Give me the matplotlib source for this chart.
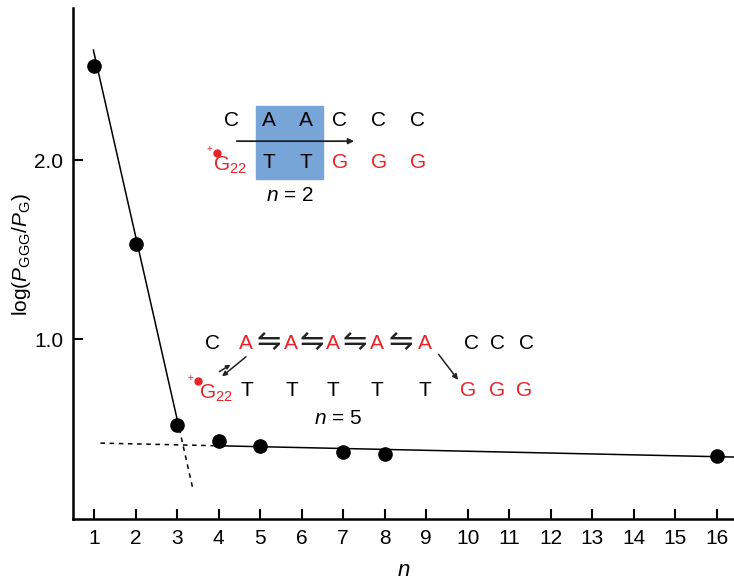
import matplotlib
matplotlib.use("Agg")
from matplotlib import pyplot as plt
from matplotlib.patches import Rectangle

plt.rcParams['font.family'] = ['Liberation Sans', 'DejaVu Sans']
plt.rcParams['mathtext.fontset'] = 'custom'
plt.rcParams['mathtext.rm'] = 'Liberation Sans'
plt.rcParams['mathtext.it'] = 'Liberation Sans:italic'

# data
n_vals = [1, 2, 3, 4, 5, 7, 8, 16]
log_ratio = [2.525, 1.53, 0.52, 0.43, 0.40, 0.37, 0.36, 0.345]
x_ticks = list(range(1, 17))
y_ticks = [1.0, 2.0]

# fitted lines (end points)
steep_n = [0.98, 3.05, 3.39]
steep_y = [2.615, 0.50, 0.151]
flat_n = [1.15, 4.0, 16.42]
flat_y = [0.419, 0.404, 0.341]

red = '#e8232a'
fs = 15

fig = plt.figure(figsize=(7.34, 5.83), dpi=100)
ax = fig.add_axes([0.0995, 0.1098, 0.9005, 0.8765])

ax.plot(steep_n[:2], steep_y[:2], c='black', lw=1.1)
ax.plot(steep_n[1:], steep_y[1:], c='black', lw=1.1, ls=(0, (3, 3)))
ax.plot(flat_n[:2], flat_y[:2], c='black', lw=1.1, ls=(0, (3, 3)))
ax.plot(flat_n[1:], flat_y[1:], c='black', lw=1.1)
ax.plot(n_vals, log_ratio, 'o', c='black', ms=9.5, zorder=5)

ax.set_xlim(0.49, 16.42)
ax.set_ylim(-0.005, 2.85)
ax.set_xticks(x_ticks)
ax.set_yticks(y_ticks)
ax.set_yticklabels(['1.0', '2.0'])
ax.tick_params(direction='in', length=7, width=1.5, labelsize=fs, pad=7)
for s in ['top', 'right']:
    ax.spines[s].set_visible(False)
for s in ['left', 'bottom']:
    ax.spines[s].set_linewidth(1.8)

ax.set_xlabel('$n$', fontsize=fs + 1, labelpad=9)
ax.set_ylabel(r'log($P_{\mathrm{GGG}}$/$P_{\mathrm{G}}$)', fontsize=fs)
ax.yaxis.set_label_coords(-0.06, 0.517)

# n = 2 inset
ax.add_patch(Rectangle((4.90, 1.894), 1.61, 0.408, color='#77a5d8', zorder=1))
top1 = ['C', 'A', 'A', 'C', 'C', 'C']
top1_x = [4.32, 5.21, 6.10, 6.92, 7.86, 8.80]
for t, x in zip(top1, top1_x):
    ax.text(x, 2.223, t, fontsize=fs, ha='center', va='center', zorder=3)
bot1 = ['T', 'T', 'G', 'G', 'G']
bot1_x = [5.21, 6.10, 6.92, 7.86, 8.80]
for t, x in zip(bot1, bot1_x):
    ax.text(x, 1.989, t, fontsize=fs, ha='center', va='center', zorder=3,
            color='black' if t == 'T' else red)
ax.text(4.27, 1.972, r'G$_{22}$', fontsize=fs, ha='center', va='center', color=red, zorder=3)
ax.plot([3.96], [2.04], 'o', c=red, ms=5)
ax.text(3.78, 2.06, '+', fontsize=7, ha='center', va='center', color=red)
ax.annotate('', xy=(7.33, 2.106), xytext=(4.37, 2.106), zorder=4,
            arrowprops=dict(arrowstyle='-|>', lw=1.3, color='#222222', mutation_scale=8))
ax.text(5.72, 1.804, '$n$ = 2', fontsize=fs, ha='center', va='center')

# n = 5 inset
top2 = ['C', 'A', '⇋', 'A', '⇋', 'A', '⇋', 'A', '⇋', 'A', 'C', 'C', 'C']
top2_x = [3.86, 4.66, 5.20, 5.74, 6.25, 6.75, 7.28, 7.81, 8.39, 8.97, 10.10, 10.72, 11.42]
for t, x in zip(top2, top2_x):
    if t == '⇋':
        ax.text(x, 0.985, t, fontsize=21, ha='center', va='center',
                family=['DejaVu Sans'], color='#222222')
    else:
        ax.text(x, 0.978, t, fontsize=fs, ha='center', va='center',
                color=red if t == 'A' else 'black')
bot2 = ['T', 'T', 'T', 'T', 'T', 'G', 'G', 'G']
bot2_x = [4.68, 5.77, 6.75, 7.81, 8.97, 10.0, 10.70, 11.37]
for t, x in zip(bot2, bot2_x):
    ax.text(x, 0.715, t, fontsize=fs, ha='center', va='center',
            color='black' if t == 'T' else red)
ax.text(3.93, 0.698, r'G$_{22}$', fontsize=fs, ha='center', va='center', color=red)
ax.plot([3.50], [0.765], 'o', c=red, ms=5)
ax.text(3.32, 0.785, '+', fontsize=7, ha='center', va='center', color=red)
ax.annotate('', xy=(9.81, 0.760), xytext=(9.26, 0.927),
            arrowprops=dict(arrowstyle='-|>', lw=1.1, color='#222222', mutation_scale=8))
ax.annotate('', xy=(4.03, 0.782), xytext=(4.71, 0.911),
            arrowprops=dict(arrowstyle='-|>', lw=1.1, color='#222222', mutation_scale=7))
ax.annotate('', xy=(4.34, 0.865), xytext=(3.96, 0.81),
            arrowprops=dict(arrowstyle='-|>', lw=1.1, color='#222222', mutation_scale=6))
ax.text(6.87, 0.559, '$n$ = 5', fontsize=fs, ha='center', va='center')

fig.savefig('out.png', dpi=100)
